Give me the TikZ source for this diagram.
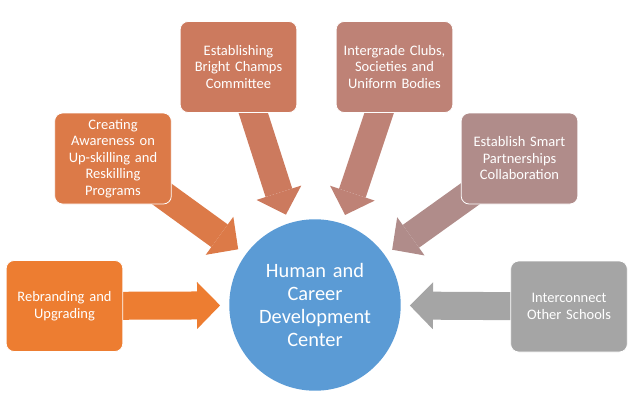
\documentclass[tikz,border=0pt]{standalone}
\usepackage{fontspec}
\setmainfont{Carlito}
\usetikzlibrary{arrows.meta,backgrounds}

\definecolor{rebrandc}{HTML}{ED7D31}
\definecolor{awarec}{HTML}{DC7A48}
\definecolor{champsc}{HTML}{CC7A5E}
\definecolor{clubsc}{HTML}{BE8276}
\definecolor{smartc}{HTML}{B08C8A}
\definecolor{schoolsc}{HTML}{A5A5A5}
\definecolor{hubc}{HTML}{5B9BD5}

\tikzset{
    box/.style={draw=white, line width=0.8pt, rounded corners=8pt, minimum width=115pt, minimum height=91pt,
                text width=110pt, align=center, text=white, font=\fontsize{14.5}{16.5}\selectfont},
    push/.style={line width=28pt, -{Triangle[width=47pt,length=23pt,line width=0pt]}, shorten >=9pt},
}

\begin{document}
\begin{tikzpicture}[x=1pt,y=-1pt]
    \useasboundingbox (0,0) rectangle (634,418);

    \node [circle] [fill=hubc, minimum size=164pt] [text width=140pt, align=center, text=white]
          [font=\fontsize{20.4}{22.7}\selectfont] (hub) at (315,305) {Human and\\ Career\\ Development\\ Center};

    \node [box] [fill=rebrandc] (rebrand) at (64.5,306)  {Rebranding and\\ Upgrading};
    \node [box] [fill=awarec]   (aware)   at (113,158.5) {Creating\\ Awareness on\\ Up-skilling and\\ Reskilling\\ Programs};
    \node [box] [fill=champsc]  (champs)  at (238.5,67)  {Establishing\\ Bright Champs\\ Committee};
    \node [box] [fill=clubsc]   (clubs)   at (394.5,67)  {Intergrade Clubs,\\ Societies and\\ Uniform Bodies};
    \node [box] [fill=smartc]   (smart)   at (519.5,158.5) {Establish Smart\\ Partnerships\\ Collaboration};
    \node [box] [fill=schoolsc] (schools) at (569,306.5) {Interconnect\\ Other Schools};

    \begin{scope}[on background layer]
        \draw [push, rebrandc] (rebrand.center) -- (hub);
        \draw [push, awarec]   (aware.center)   -- (hub);
        \draw [push, champsc]  (champs.center)  -- (hub);
        \draw [push, clubsc]   (clubs.center)   -- (hub);
        \draw [push, smartc]   (smart.center)   -- (hub);
        \draw [push, schoolsc] (schools.center) -- (hub);
    \end{scope}
\end{tikzpicture}
\end{document}
